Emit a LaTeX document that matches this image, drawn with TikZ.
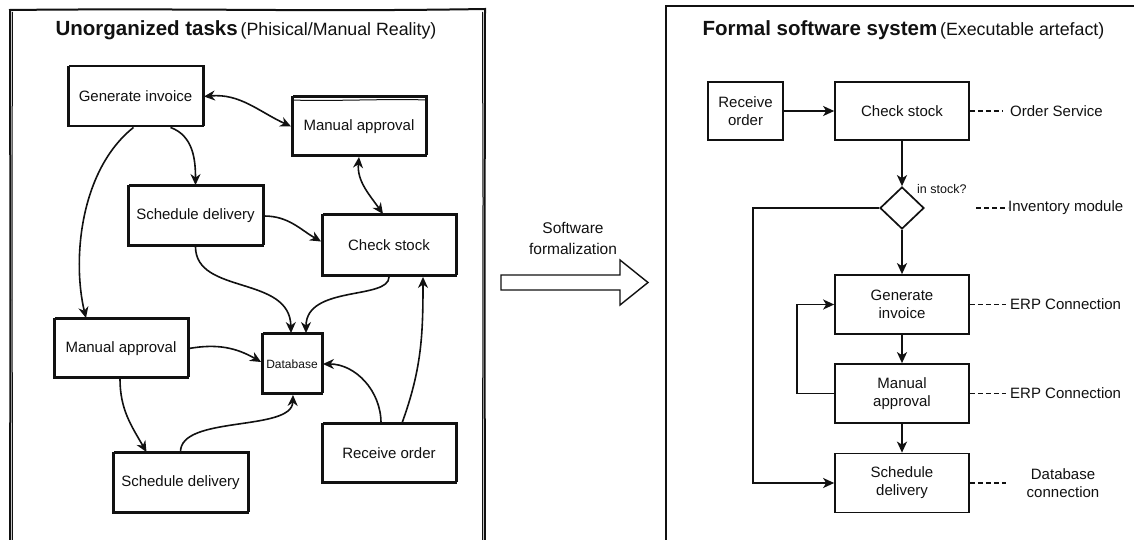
\documentclass[tikz,border=0pt]{standalone}
\usepackage{fontspec}
\setmainfont{Liberation Sans}
\usetikzlibrary{arrows.meta,shapes.geometric,calc}
\definecolor{ink}{HTML}{111111}
\tikzset{
  tip/.style={-{Stealth[length=11pt,width=10pt,inset=3.5pt]}},
  dtip/.style={{Stealth[length=11pt,width=10pt,inset=3.5pt]}-{Stealth[length=11pt,width=10pt,inset=3.5pt]}},
  sketch/.style={draw=ink, line width=1.9pt, text=ink, inner sep=0pt,
     minimum width=135pt, minimum height=60pt,
     font=\fontsize{15}{18}\selectfont,
     preaction={draw=ink, line width=1pt, transform canvas={shift={(1.1pt,1.1pt)}}}},
  sline/.style={draw=ink, line width=1.6pt},
  fbox/.style={draw=ink, line width=1.7pt, text=ink, inner sep=0pt,
     minimum width=134pt, minimum height=59pt, align=center,
     font=\fontsize{15}{18}\selectfont},
  fline/.style={draw=ink, line width=1.8pt, -{Stealth[length=11pt,width=10pt,inset=3pt]}},
  dashl/.style={draw=ink, line width=1.6pt, dash pattern=on 5pt off 3pt},
  lbl/.style={text=ink, inner sep=0pt, font=\fontsize{15}{18}\selectfont, align=center},
  ttl/.style={text=ink, inner sep=0pt},
}
\begin{document}
\begin{tikzpicture}[x=1pt,y=-1pt]
\useasboundingbox (0,0) rectangle (1134,540);
\fill[white] (0,0) rectangle (1134,540);

% ---------- left frame ----------
\draw[sline, line width=2pt] (10,545) -- (10.5,300) -- (10,10) .. controls (200,8) and (300,12) .. (485,9) -- (484.5,300) -- (485,545);
\draw[ink, line width=1pt] (12.5,545) -- (12,200) -- (12.5,12);
\draw[ink, line width=1pt] (482.5,545) -- (483,200) -- (482.5,12);
\node[ttl] (ltitle) at (246,30) {{\fontsize{20.5}{24}\selectfont\bfseries Unorganized tasks}\ {\fontsize{17.8}{22}\selectfont(Phisical/Manual Reality)}};

% ---------- left nodes ----------
\node[sketch] (lgi) at (135.5,96.5) {Generate invoice};
\node[sketch, minimum width=134pt, minimum height=59pt] (lma1) at (359,126.5) {Manual approval};
\draw[ink, line width=1pt] (292,100) .. controls (330,101.5) and (390,98.5) .. (426,100);
\node[sketch] (lsd1) at (195.5,216) {Schedule delivery};
\node[sketch, minimum width=134pt, minimum height=61pt] (lcs) at (389,245.5) {Check stock};
\node[sketch, minimum width=134pt, minimum height=59pt] (lma2) at (121,348.5) {Manual approval};
\node[sketch, minimum width=60pt, minimum height=60pt, font=\fontsize{12}{14}\selectfont] (ldb) at (292,364) {Database};
\node[sketch] (lsd2) at (180.5,483) {Schedule delivery};
\node[sketch, minimum width=134pt, minimum height=59pt] (lro) at (389,453.5) {Receive order};

% ---------- left connectors ----------
\draw[sline, dtip] (lgi.east) to[out=5,in=155] (lma1.west);
\draw[sline, dtip] (lma1.south) to[out=-95,in=125] ($(lcs.north)+(-6,0)$);
\draw[sline, tip] ($(lgi.south)+(35,0)$) to[out=-20,in=90] ($(lsd1.north)+(0,0)$);
\draw[sline, tip] ($(lgi.south)+(-2,0)$) .. controls (80,170) and (72,260) .. ($(lma2.north)+(-35,0)$);
\draw[sline, tip] (lsd1.east) to[out=0,in=150] ($(lcs.west)+(0,-4)$);
\draw[sline, tip] (lsd1.south) .. controls (196,295) and (290,275) .. ($(ldb.north)+(-1,0)$);
\draw[sline, tip] (lcs.south) .. controls (389,300) and (306,285) .. ($(ldb.north)+(14,0)$);
\draw[sline, tip] (lma2.east) to[out=10,in=150] ($(ldb.west)+(0,-2)$);
\draw[sline, tip] ($(lma2.south)+(-1,0)$) to[out=-90,in=120] ($(lsd2.north)+(-34,0)$);
\draw[sline, tip] ($(lsd2.north)+(0,0)$) .. controls (180,415) and (292,432) .. ($(ldb.south)+(1,0)$);
\draw[sline, tip] ($(lro.north)+(-8,0)$) to[out=90,in=0] (ldb.east);
\draw[sline, tip] ($(lro.north)+(13,0)$) to[out=70,in=-90] ($(lcs.south)+(34,0)$);

% ---------- middle ----------
\node[lbl, font=\fontsize{15.5}{21}\selectfont] (swf) at (573,238) {Software\\formalization};
\draw[ink, line width=1.4pt, fill=white] (501,275) -- (620,275) -- (620,260) -- (648,282.5) -- (620,305) -- (620,290) -- (501,290) -- cycle;

% ---------- right frame ----------
\draw[sline, line width=1.8pt] (666,545) -- (666,6) -- (1140,6);
\node[ttl] (rtitle) at (903.5,30) {{\fontsize{20.5}{24}\selectfont\bfseries Formal software system}\ {\fontsize{17.8}{22}\selectfont(Executable artefact)}};

% ---------- right nodes ----------
\node[fbox, minimum width=75pt, minimum height=58pt] (rro) at (745.5,111) {Receive\\order};
\node[fbox, minimum height=58pt] (rcs) at (902,111) {Check stock};
\node[draw=ink, line width=1.7pt, diamond, aspect=1.05, inner sep=0pt, minimum width=44pt, minimum height=42pt] (rdi) at (902,208) {};
\node[fbox] (rgi) at (902,304.5) {Generate\\invoice};
\node[fbox] (rma) at (902,393.5) {Manual\\approval};
\node[fbox] (rsd) at (902,483) {Schedule\\delivery};

\node[lbl, font=\fontsize{12.5}{14}\selectfont, anchor=west] (instock) at (917,189) {in stock?};

% side labels
\coordinate (osA) at (1003,111);
\node[lbl, anchor=west] (os) at (1010,111) {Order Service};
\coordinate (imA) at (976,208);
\node[lbl, anchor=west] (im) at (1008,208) {Inventory module};
\coordinate (e1A) at (1006,304.5);
\node[lbl, anchor=west] (e1) at (1010,304.5) {ERP Connection};
\coordinate (e2A) at (1006,393.5);
\node[lbl, anchor=west] (e2) at (1010,393.5) {ERP Connection};
\coordinate (dcA) at (1006,483);
\node[lbl] (dc) at (1063,483) {Database\\connection};

\draw[dashl] (rcs.east) -- (osA);
\draw[dashl] (imA) -- (im.west);
\draw[dashl] (rgi.east) -- (e1A);
\draw[dashl] (rma.east) -- (e2A);
\draw[dashl] (rsd.east) -- (dcA);

% ---------- right connectors ----------
\draw[fline] (rro.east) -- (rcs.west);
\draw[fline] (rcs.south) -- (rdi.north);
\draw[fline] (rdi.south) -- (rgi.north);
\draw[fline] (rgi.south) -- (rma.north);
\draw[fline] (rma.south) -- (rsd.north);
\draw[fline] (rdi.west) -- (753,208) |- (rsd.west);
\draw[fline] (rma.west) -- (797,393.5) |- (rgi.west);
\end{tikzpicture}
\end{document}
